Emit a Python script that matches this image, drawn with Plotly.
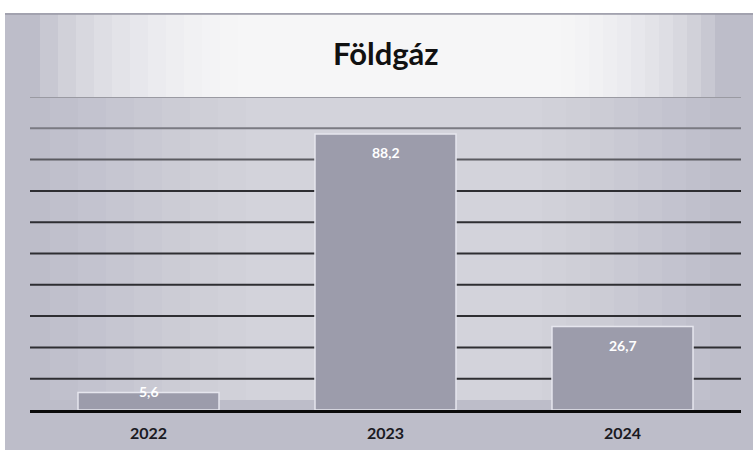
import plotly.graph_objects as go

# ---- data ----
years = ["2022", "2023", "2024"]
values = [5.6, 88.2, 26.7]
labels = ["5,6", "88,2", "26,7"]
grid_values = [10, 20, 30, 40, 50, 60, 70, 80, 90, 100]
title_text = "Földgáz"

W, H = 753, 450
ML, MR, MT, MB = 30, 12, 97, 40
PW, PH = W - ML - MR, H - MT - MB


def px_x(x):
    return (x - ML) / PW


def px_y(y):
    return (H - MB - y) / PH


fig = go.Figure()

fig.add_trace(go.Bar(
    x=years, y=values,
    marker=dict(color="#9c9cab", line=dict(color="#e6e6ee", width=1.5)),
    width=0.595,
    hoverinfo="skip",
))

shapes = []
# background
shapes.append(dict(type="rect", xref="paper", yref="paper",
                   x0=px_x(0), x1=px_x(W), y0=px_y(H), y1=px_y(0),
                   fillcolor="#ffffff", line=dict(width=0), layer="below"))
shapes.append(dict(type="rect", xref="paper", yref="paper",
                   x0=px_x(5), x1=px_x(W), y0=px_y(H), y1=px_y(13),
                   fillcolor="#bdbdc9", line=dict(width=0), layer="below"))
# lighter centre (title zone)
for i in range(12):
    a = 40 + i * 18
    b = 715 - i * 14
    shapes.append(dict(type="rect", xref="paper", yref="paper",
                       x0=px_x(a), x1=px_x(b), y0=px_y(97), y1=px_y(14),
                       fillcolor="white", opacity=0.17, line=dict(width=0), layer="below"))
# lighter centre (plot zone)
for i in range(8):
    a = 50 + i * 28
    b = 710 - i * 24
    shapes.append(dict(type="rect", xref="paper", yref="paper",
                       x0=px_x(a), x1=px_x(b), y0=px_y(400), y1=px_y(97),
                       fillcolor="white", opacity=0.06, line=dict(width=0), layer="below"))
# faint line at top of chart area
shapes.append(dict(type="line", xref="paper", yref="paper",
                   x0=px_x(5), x1=px_x(W), y0=px_y(14), y1=px_y(14),
                   line=dict(color="#9a9aa6", width=1.5), layer="below"))
# gridlines
grid_colors = {100: "#9a9aa2", 90: "#7a7a82", 80: "#5a5a60"}
for g in grid_values:
    shapes.append(dict(type="line", xref="paper", yref="y",
                       x0=0, x1=1, y0=g, y1=g,
                       line=dict(color=grid_colors.get(g, "#2e2e32"), width=2),
                       layer="below"))

annotations = []
for i, (v, lab) in enumerate(zip(values, labels)):
    annotations.append(dict(x=i, y=v, xref="x", yref="y", text=lab,
                            showarrow=False, yanchor="middle", xanchor="center",
                            yshift=-19 if v > 15 else 1,
                            font=dict(family="Lato", size=14, color="white", weight="bold")))

annotations.append(dict(x=px_x(386), y=px_y(53), xref="paper", yref="paper",
                        text=title_text, showarrow=False,
                        xanchor="center", yanchor="middle",
                        font=dict(family="Lato", size=31, color="#111111", weight="bold")))

fig.update_layout(
    width=W, height=H, autosize=False,
    margin=dict(l=ML, r=MR, t=MT, b=MB),
    paper_bgcolor="white",
    plot_bgcolor="rgba(0,0,0,0)",
    showlegend=False,
    shapes=shapes,
    annotations=annotations,
    separators=",.",
    xaxis=dict(type="category", range=[-0.5, 2.5], showgrid=False, automargin=False,
               showline=True, linecolor="#0a0a0a", linewidth=3,
               ticks="outside", ticklen=7, tickcolor="rgba(0,0,0,0)",
               tickfont=dict(family="Lato", size=16, color="#1a1a22", weight="bold")),
    yaxis=dict(range=[0, 100], showgrid=False, zeroline=False, automargin=False,
               showticklabels=False, showline=False),
)

fig.write_html("out.html",
               config={"responsive": False, "displayModeBar": False},
               post_script="document.body.style.margin='0';document.body.style.overflow='hidden';")
